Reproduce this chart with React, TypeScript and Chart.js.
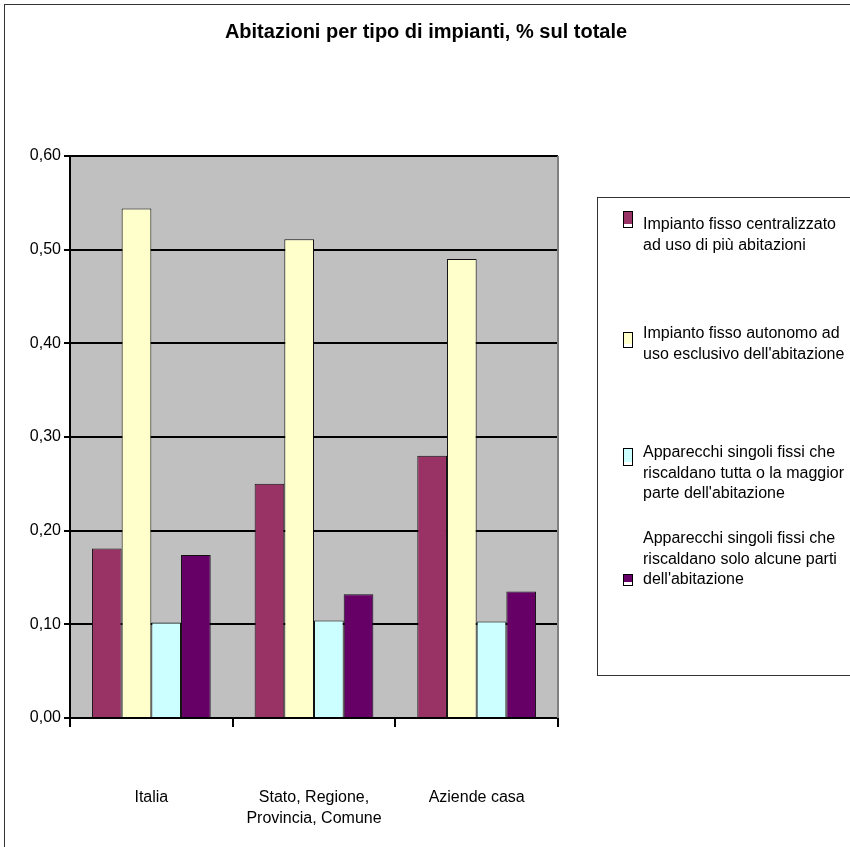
import { useEffect, useRef } from 'react';
import { Chart, registerables } from 'chart.js';

Chart.register(...registerables);

const categories: string[][] = [['Italia'], ['Stato, Regione,', 'Provincia, Comune'], ['Aziende casa']];
const seriesNames: string[] = [
  'Impianto fisso centralizzato ad uso di più abitazioni',
  "Impianto fisso autonomo ad uso esclusivo dell'abitazione",
  "Apparecchi singoli fissi che riscaldano tutta o la maggior parte dell'abitazione",
  "Apparecchi singoli fissi che riscaldano solo alcune parti dell'abitazione",
];
const legendLines: string[][] = [
  ['Impianto fisso centralizzato', 'ad uso di più abitazioni'],
  ['Impianto fisso autonomo ad', "uso esclusivo dell'abitazione"],
  ['Apparecchi singoli fissi che', 'riscaldano tutta o la maggior', "parte dell'abitazione"],
  ['Apparecchi singoli fissi che', 'riscaldano solo alcune parti', "dell'abitazione"],
];
const centralizzato: number[] = [0.181, 0.25, 0.28];
const autonomo: number[] = [0.544, 0.511, 0.49];
const singoliTutta: number[] = [0.102, 0.104, 0.103];
const singoliParti: number[] = [0.174, 0.132, 0.135];
const yTickValues: number[] = [0, 0.1, 0.2, 0.3, 0.4, 0.5, 0.6];
const titleText = 'Abitazioni per tipo di impianti, % sul totale';

const FONT = "'Liberation Sans', Arial, sans-serif";
const colors = ['#993366', '#FFFFCC', '#CCFFFF', '#660066'];

// legend layout: baseline of first line, swatch top/bottom
const legendEntryLayout = [
  { base: 229, sw: [211, 227] },
  { base: 338, sw: [332, 347] },
  { base: 457, sw: [448, 465] },
  { base: 543, sw: [574, 585] },
];

const decorPlugin = {
  id: 'decor',
  beforeDraw(chart: any) {
    const { ctx, chartArea } = chart;
    ctx.save();
    ctx.fillStyle = '#ffffff';
    ctx.fillRect(0, 0, chart.width, chart.height);
    ctx.fillStyle = '#C0C0C0';
    ctx.fillRect(chartArea.left, chartArea.top, chartArea.right - chartArea.left, chartArea.bottom - chartArea.top);
    ctx.restore();
  },
  afterDraw(chart: any) {
    const { ctx, chartArea } = chart;
    ctx.save();
    // outer border
    ctx.strokeStyle = '#333333';
    ctx.lineWidth = 1;
    ctx.strokeRect(4.5, 4.5, 1000, 1000);
    // plot right border
    ctx.strokeStyle = '#808080';
    ctx.lineWidth = 2;
    ctx.beginPath();
    ctx.moveTo(chartArea.right, chartArea.top);
    ctx.lineTo(chartArea.right, chartArea.bottom);
    ctx.stroke();
    // title
    ctx.fillStyle = '#000';
    ctx.font = `bold 20px ${FONT}`;
    ctx.textAlign = 'center';
    ctx.textBaseline = 'alphabetic';
    ctx.fillText(titleText, 426, 38);
    // legend box
    ctx.strokeStyle = '#333333';
    ctx.lineWidth = 1;
    ctx.strokeRect(597.5, 197.5, 400, 478);
    ctx.font = `16px ${FONT}`;
    ctx.textAlign = 'left';
    chart.data.datasets.forEach((ds: any, i: number) => {
      const lay = legendEntryLayout[i];
      const lines = legendLines[i];
      lines.forEach((ln, j) => {
        ctx.fillStyle = '#000';
        ctx.fillText(ln, 643, lay.base + j * 20.5);
      });
      const [t, b] = lay.sw;
      ctx.fillStyle = '#ffffff';
      ctx.fillRect(624, t, 8, b - t);
      ctx.fillStyle = ds.backgroundColor;
      ctx.fillRect(624, t, 8, b - t - 3);
      ctx.strokeStyle = '#000';
      ctx.lineWidth = 1;
      ctx.strokeRect(623.5, t + 0.5, 9, b - t);
    });
    ctx.restore();
  },
};

export default function App() {
  const ref = useRef<HTMLCanvasElement>(null);
  useEffect(() => {
    if (!ref.current) return;
    const series = [centralizzato, autonomo, singoliTutta, singoliParti];
    const chart = new Chart(ref.current, {
      type: 'bar',
      data: {
        labels: categories,
        datasets: series.map((d, i) => ({
          label: seriesNames[i],
          data: d,
          backgroundColor: colors[i],
          borderColor: '#111111',
          borderWidth: 1,
          categoryPercentage: 0.73,
          barPercentage: 1,
        })),
      },
      options: {
        animation: false,
        responsive: false,
        layout: { padding: { left: 0, top: 156, right: 292, bottom: 0 } },
        plugins: {
          legend: { display: false },
          title: { display: false },
          tooltip: { enabled: false },
        },
        scales: {
          x: {
            grid: { offset: true, drawOnChartArea: false, drawTicks: true, tickLength: 9, color: '#000', lineWidth: 2 },
            border: { display: true, color: '#000', width: 2 },
            ticks: {
              color: '#000',
              font: { family: FONT, size: 16, lineHeight: 1.3 },
              padding: 60,
              maxRotation: 0,
              autoSkip: false,
            },
            afterFit: (s: any) => {
              s.height = 129;
            },
          },
          y: {
            min: 0,
            max: 0.6,
            afterBuildTicks: (s: any) => {
              s.ticks = yTickValues.map((v) => ({ value: v }));
            },
            ticks: {
              color: '#000',
              font: { family: FONT, size: 16 },
              padding: 3,
              callback: (v: any) => Number(v).toFixed(2).replace('.', ','),
            },
            grid: { color: '#000', lineWidth: 2, tickLength: 6, drawTicks: true },
            border: { display: true, color: '#000', width: 2 },
            afterFit: (s: any) => {
              s.width = 70;
            },
          },
        },
      },
      plugins: [decorPlugin],
    });
    return () => chart.destroy();
  }, []);
  return (
    <canvas
      ref={ref}
      width={850}
      height={847}
      style={{ position: 'absolute', left: 0, top: 0, display: 'block' }}
    />
  );
}
